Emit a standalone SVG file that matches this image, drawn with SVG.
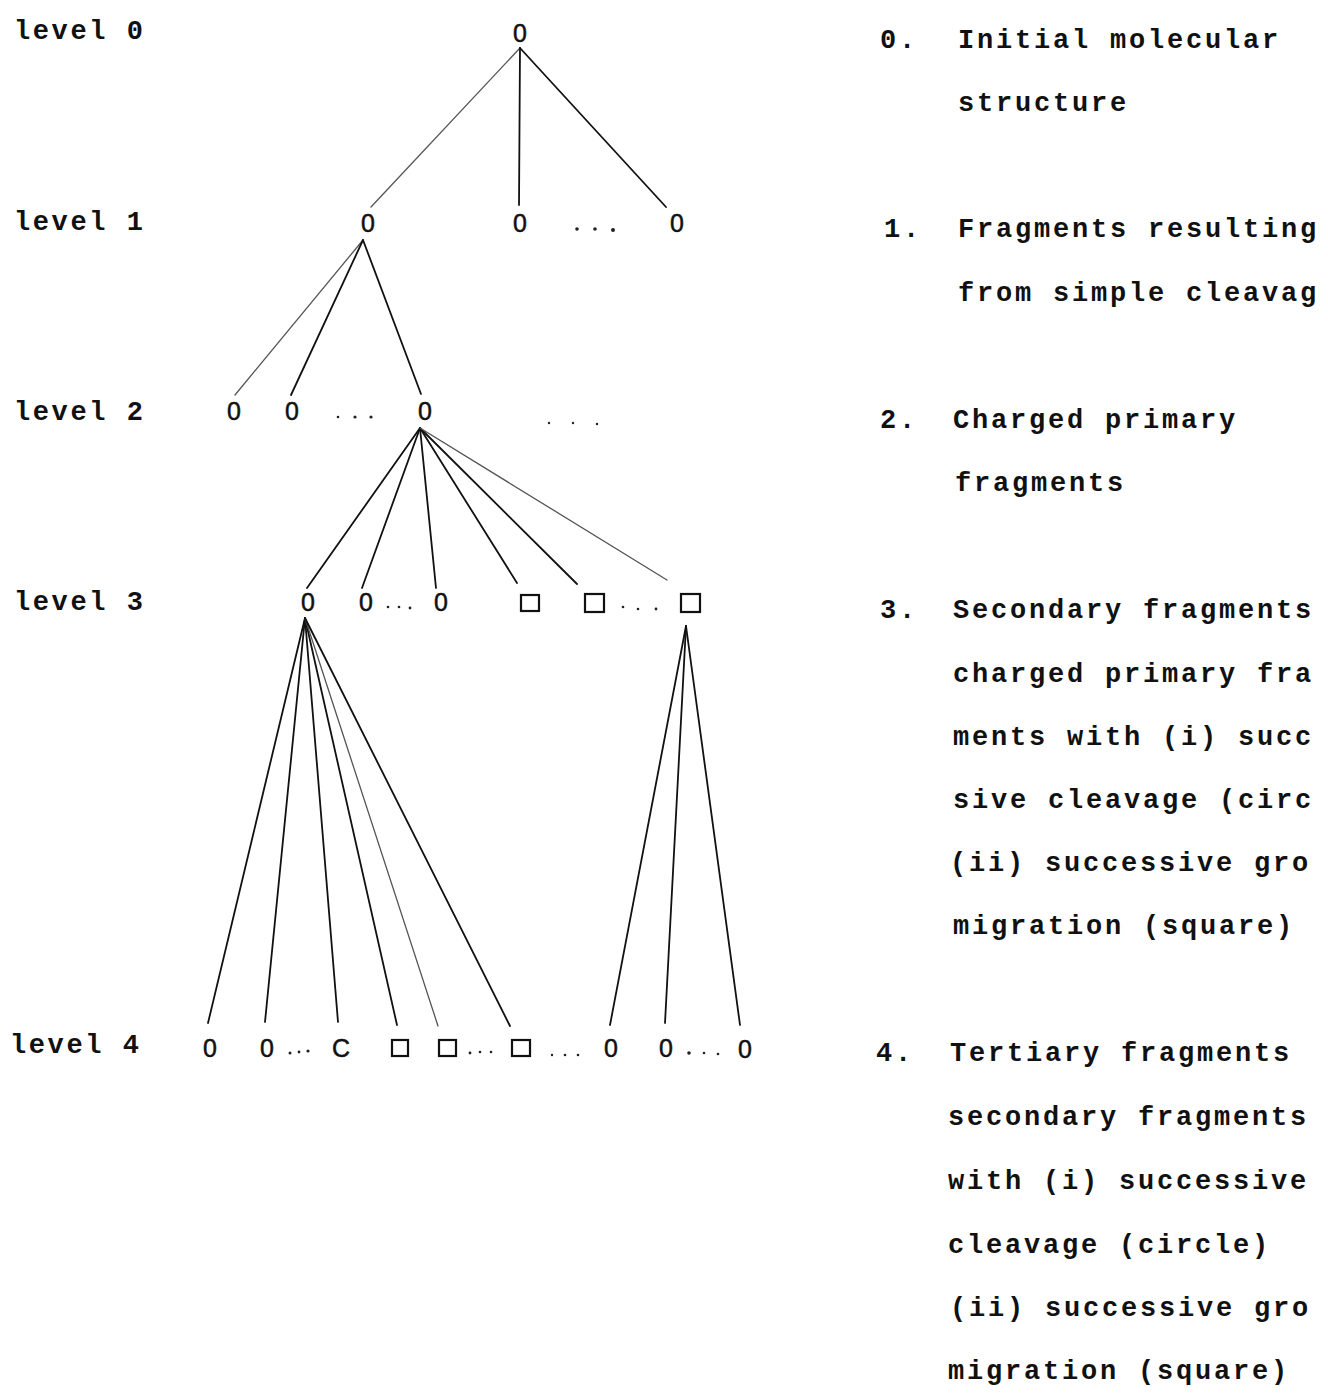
<svg xmlns="http://www.w3.org/2000/svg" width="1328" height="1393" viewBox="0 0 1328 1393">
<style>
.lvl{font-family:"Liberation Mono",monospace;font-weight:bold;font-size:27px;letter-spacing:2.6px;fill:#111}
.desc{font-family:"Liberation Mono",monospace;font-weight:bold;font-size:27px;letter-spacing:2.8px;fill:#111}
.node{font-family:"Liberation Sans",Arial,sans-serif;font-size:25px;fill:#111;stroke:#111;stroke-width:0.5;text-anchor:middle}
.sq{fill:none;stroke:#111;stroke-width:2.2}
.dot{fill:#222}
.ln{stroke:#111;stroke-width:1.8;fill:none;stroke-linecap:round}
.fn{stroke:#555;stroke-width:1.3;fill:none;stroke-linecap:round}
</style>
<rect width="1328" height="1393" fill="#fff"/>

<g id="level-labels">
<text class="lvl" x="14" y="39">level 0</text>
<text class="lvl" x="14" y="230">level 1</text>
<text class="lvl" x="14" y="420">level 2</text>
<text class="lvl" x="14" y="610">level 3</text>
<text class="lvl" x="10" y="1053">level 4</text>
</g>

<g id="connectors">
<line class="fn" x1="520" y1="48" x2="371" y2="207"/>
<line class="ln" x1="520" y1="48" x2="519" y2="205"/>
<line class="ln" x1="520" y1="48" x2="666" y2="207"/>

<line class="fn" x1="363" y1="240" x2="235" y2="395"/>
<line class="ln" x1="363" y1="240" x2="291" y2="395"/>
<line class="ln" x1="363" y1="240" x2="421" y2="394"/>

<line class="ln" x1="420" y1="428" x2="307" y2="588"/>
<line class="ln" x1="420" y1="428" x2="362" y2="588"/>
<line class="ln" x1="420" y1="428" x2="436" y2="588"/>
<line class="ln" x1="420" y1="428" x2="517" y2="583"/>
<line class="ln" x1="420" y1="428" x2="577" y2="584"/>
<line class="fn" x1="420" y1="428" x2="667" y2="580"/>

<line class="ln" x1="305" y1="618" x2="208" y2="1023"/>
<line class="ln" x1="305" y1="618" x2="265" y2="1022"/>
<line class="ln" x1="305" y1="618" x2="338" y2="1022"/>
<line class="ln" x1="305" y1="618" x2="397" y2="1025"/>
<line class="fn" x1="305" y1="618" x2="438" y2="1026"/>
<line class="ln" x1="305" y1="618" x2="510" y2="1026"/>

<line class="ln" x1="686" y1="626" x2="610" y2="1025"/>
<line class="ln" x1="686" y1="626" x2="665" y2="1023"/>
<line class="ln" x1="686" y1="626" x2="740" y2="1025"/>
</g>

<g id="n0"><text class="node" x="520" y="42">0</text></g>

<g id="n1a"><text class="node" x="368" y="232">0</text></g>
<g id="n1b"><text class="node" x="520" y="232">0</text></g>
<g id="n1-dots"><circle class="dot" cx="577" cy="229" r="1.8"/><circle class="dot" cx="595" cy="229" r="1.8"/><circle class="dot" cx="613" cy="230" r="2"/></g>
<g id="n1c"><text class="node" x="677" y="232">0</text></g>

<g id="n2a"><text class="node" x="234" y="420">0</text></g>
<g id="n2b"><text class="node" x="292" y="420">0</text></g>
<g id="n2-dots"><circle class="dot" cx="338" cy="417" r="1.3"/><circle class="dot" cx="355" cy="417" r="1.6"/><circle class="dot" cx="371" cy="417" r="1.6"/></g>
<g id="n2c"><text class="node" x="425" y="420">0</text></g>
<g id="n2-dots2"><circle class="dot" cx="549" cy="423" r="1.2"/><circle class="dot" cx="573" cy="423" r="1.2"/><circle class="dot" cx="597" cy="424" r="1.2"/></g>

<g id="n3a"><text class="node" x="308" y="611">0</text></g>
<g id="n3b"><text class="node" x="366" y="611">0</text></g>
<g id="n3-dots"><circle class="dot" cx="388" cy="607" r="1.3"/><circle class="dot" cx="399" cy="607" r="1.3"/><circle class="dot" cx="410" cy="608" r="1.4"/></g>
<g id="n3c"><text class="node" x="441" y="611">0</text></g>
<g id="n3d"><rect class="sq" x="521" y="595" width="18" height="16"/></g>
<g id="n3e"><rect class="sq" x="585" y="594" width="19" height="18"/></g>
<g id="n3-dots2"><circle class="dot" cx="623" cy="607" r="1.3"/><circle class="dot" cx="638" cy="609" r="1.3"/><circle class="dot" cx="656" cy="609" r="1.4"/></g>
<g id="n3f"><rect class="sq" x="681" y="594" width="19" height="18"/></g>

<g id="n4a"><text class="node" x="210" y="1057">0</text></g>
<g id="n4b"><text class="node" x="267" y="1057">0</text></g>
<g id="n4-dots1"><circle class="dot" cx="290" cy="1053" r="1.5"/><circle class="dot" cx="299" cy="1052" r="1.4"/><circle class="dot" cx="308" cy="1051" r="1.6"/></g>
<g id="n4c"><text class="node" x="341" y="1057">C</text></g>
<g id="n4d"><rect class="sq" x="392" y="1040" width="16" height="16"/></g>
<g id="n4e"><rect class="sq" x="439" y="1040" width="17" height="16"/></g>
<g id="n4-dots2"><circle class="dot" cx="470" cy="1053" r="1.4"/><circle class="dot" cx="480" cy="1052" r="1.3"/><circle class="dot" cx="491" cy="1052" r="1.3"/></g>
<g id="n4f"><rect class="sq" x="512" y="1040" width="18" height="16"/></g>
<g id="n4-dots3"><circle class="dot" cx="552" cy="1055" r="1.2"/><circle class="dot" cx="565" cy="1055" r="1.3"/><circle class="dot" cx="578" cy="1055" r="1.3"/></g>
<g id="n4g"><text class="node" x="611" y="1057">0</text></g>
<g id="n4h"><text class="node" x="666" y="1057">0</text></g>
<g id="n4-dots4"><circle class="dot" cx="689" cy="1053" r="1.8"/><circle class="dot" cx="704" cy="1053" r="1.3"/><circle class="dot" cx="718" cy="1054" r="1.3"/></g>
<g id="n4i"><text class="node" x="745" y="1058">0</text></g>

<g id="legend">
<text class="desc" x="880" y="48">0.</text>
<text class="desc" x="958" y="48">Initial molecular</text>
<text class="desc" x="958" y="111">structure</text>

<text class="desc" x="884" y="237">1.</text>
<text class="desc" x="958" y="237">Fragments resulting</text>
<text class="desc" x="958" y="301">from simple cleavag</text>

<text class="desc" x="880" y="428">2.</text>
<text class="desc" x="953" y="428">Charged primary</text>
<text class="desc" x="955" y="491">fragments</text>

<text class="desc" x="880" y="618">3.</text>
<text class="desc" x="953" y="618">Secondary fragments</text>
<text class="desc" x="953" y="682">charged primary fra</text>
<text class="desc" x="953" y="745">ments with (i) succ</text>
<text class="desc" x="953" y="808">sive cleavage (circ</text>
<text class="desc" x="950" y="871">(ii) successive gro</text>
<text class="desc" x="953" y="934">migration (square)</text>

<text class="desc" x="876" y="1061">4.</text>
<text class="desc" x="950" y="1061">Tertiary fragments</text>
<text class="desc" x="948" y="1125">secondary fragments</text>
<text class="desc" x="948" y="1189">with (i) successive</text>
<text class="desc" x="948" y="1253">cleavage (circle)</text>
<text class="desc" x="950" y="1316">(ii) successive gro</text>
<text class="desc" x="948" y="1379">migration (square)</text>
</g>
</svg>
